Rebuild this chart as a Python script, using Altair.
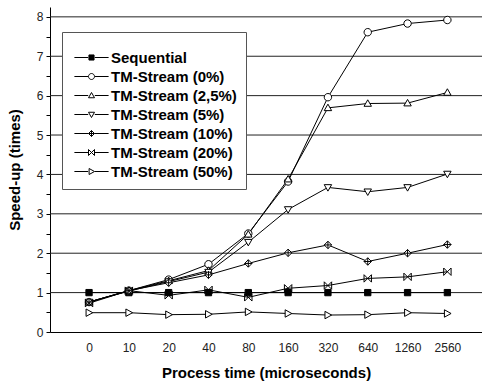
import altair as alt
import pandas as pd

x_labels = ["0", "10", "20", "40", "80", "160", "320", "640", "1260", "2560"]
series_names = ["Sequential", "TM-Stream (0%)", "TM-Stream (2,5%)", "TM-Stream (5%)",
                "TM-Stream (10%)", "TM-Stream (20%)", "TM-Stream (50%)"]
sequential = [1.0, 1.0, 1.0, 1.0, 1.0, 1.0, 1.0, 1.0, 1.0, 1.0]
tm_0 = [0.76, 1.05, 1.33, 1.72, 2.50, 3.82, 5.96, 7.61, 7.83, 7.92]
tm_2_5 = [0.76, 1.05, 1.30, 1.56, 2.48, 3.88, 5.69, 5.80, 5.81, 6.08]
tm_5 = [0.76, 1.04, 1.28, 1.52, 2.28, 3.11, 3.67, 3.56, 3.67, 4.01]
tm_10 = [0.76, 1.05, 1.25, 1.45, 1.74, 2.01, 2.21, 1.79, 2.00, 2.22]
tm_20 = [0.73, 1.05, 0.93, 1.07, 0.88, 1.11, 1.18, 1.36, 1.40, 1.53]
tm_50 = [0.49, 0.49, 0.44, 0.45, 0.51, 0.47, 0.43, 0.44, 0.49, 0.47]
grid_values = [1, 2, 3, 4, 5, 6, 7, 8]

all_series = [sequential, tm_0, tm_2_5, tm_5, tm_10, tm_20, tm_50]
rows = []
for name, vals in zip(series_names, all_series):
    for xl, v in zip(x_labels, vals):
        rows.append({"series": name, "t": xl, "value": v})
df = pd.DataFrame(rows)
grid_df = pd.DataFrame({"value": grid_values})

# marker paths (unit square -1..1)
marker_paths = [
    "M-0.85,-0.85L0.85,-0.85L0.85,0.85L-0.85,0.85Z",
    "M-1,0A1,1 0 1,0 1,0A1,1 0 1,0 -1,0Z",
    "M0,-1L1,0.75L-1,0.75Z",
    "M0,1L1,-0.75L-1,-0.75Z",
    "M0,-1L1,0L0,1L-1,0Z M0,-1L0,1 M-1,0L1,0",
    "M-1,-1L1,1M1,-1L-1,1M-1,-1L-1,1M1,-1L1,1",
    "M1,0L-0.8,-1L-0.8,1Z",
]
stub = "M-5.7,0L-1.1,0M1.1,0L5.7,0"
legend_paths = [stub + p for p in marker_paths]
fills = ["black", "white", "white", "white", "white", "#bbbbbb", "white"]
strokes = ["black"] * len(series_names)

W, H = 432, 325
x_enc = alt.X("t:O", sort=x_labels,
              scale=alt.Scale(type="point", padding=0.925, align=0.53),
              axis=alt.Axis(title="Process time (microseconds)", labelAngle=0,
                            ticks=False, labelPadding=10, titlePadding=12,
                            domainColor="black", grid=False))
y_scale = alt.Scale(domain=[0, 8.25], nice=False)
y_axis = alt.Axis(title="Speed-up (times)",
                  values=[i * 0.5 for i in range(17)],
                  labelExpr="datum.value % 1 == 0 ? format(datum.value, 'd') : ''",
                  tickSize=4, labelPadding=3, titlePadding=14,
                  domainColor="black", tickColor="black", grid=False)
y_enc = alt.Y("value:Q", scale=y_scale, axis=y_axis)

grid = alt.Chart(grid_df).mark_rule(color="#222", strokeWidth=1).encode(
    y=alt.Y("value:Q", scale=y_scale, axis=y_axis),
    x=alt.value(0), x2=alt.value(W))

lines = alt.Chart(df).mark_line(color="black", strokeWidth=1).encode(
    x=x_enc, y=y_enc, detail="series:N")

points = alt.Chart(df).mark_point(stroke="black", strokeWidth=1, size=55,
                                  opacity=1, filled=False).encode(
    x=x_enc, y=y_enc,
    shape=alt.Shape("series:N", scale=alt.Scale(domain=series_names, range=marker_paths), legend=None),
    fill=alt.Fill("series:N", scale=alt.Scale(domain=series_names, range=fills), legend=None))

leg = alt.Legend(title=" ", orient="none", legendX=12, legendY=25,
                 titleFontSize=1, titlePadding=8)
legend_layer = alt.Chart(df).transform_filter("datum.value > 1000").mark_point(
    strokeWidth=1, opacity=1, filled=False).encode(
    x=x_enc, y=y_enc,
    shape=alt.Shape("series:N", scale=alt.Scale(domain=series_names, range=legend_paths), legend=leg),
    fill=alt.Fill("series:N", scale=alt.Scale(domain=series_names, range=fills), legend=leg),
    stroke=alt.Stroke("series:N", scale=alt.Scale(domain=series_names, range=strokes), legend=leg))

chart = alt.layer(grid, lines, points, legend_layer).resolve_scale(
    shape="independent", fill="independent", stroke="independent"
).properties(
    width=W, height=H,
    autosize=alt.AutoSizeParams(type="none"),
    padding={"left": 50, "top": 7, "right": 0, "bottom": 52},
).configure_view(stroke=None).configure_axis(
    labelFont="Liberation Sans", labelFontSize=12, labelColor="#222",
    titleFont="Liberation Sans", titleFontSize=15, titleFontWeight="bold", titleColor="black",
).configure_legend(
    labelFont="Liberation Sans", labelFontSize=15, labelFontWeight="bold", labelColor="black",
    symbolSize=36, symbolStrokeWidth=1, symbolStrokeColor="black",
    symbolOffset=13, labelOffset=12, rowPadding=3, padding=9,
    strokeColor="#555", fillColor="white", labelLimit=300,
)

chart.save("out.html", embed_options={"renderer": "svg", "actions": False})
